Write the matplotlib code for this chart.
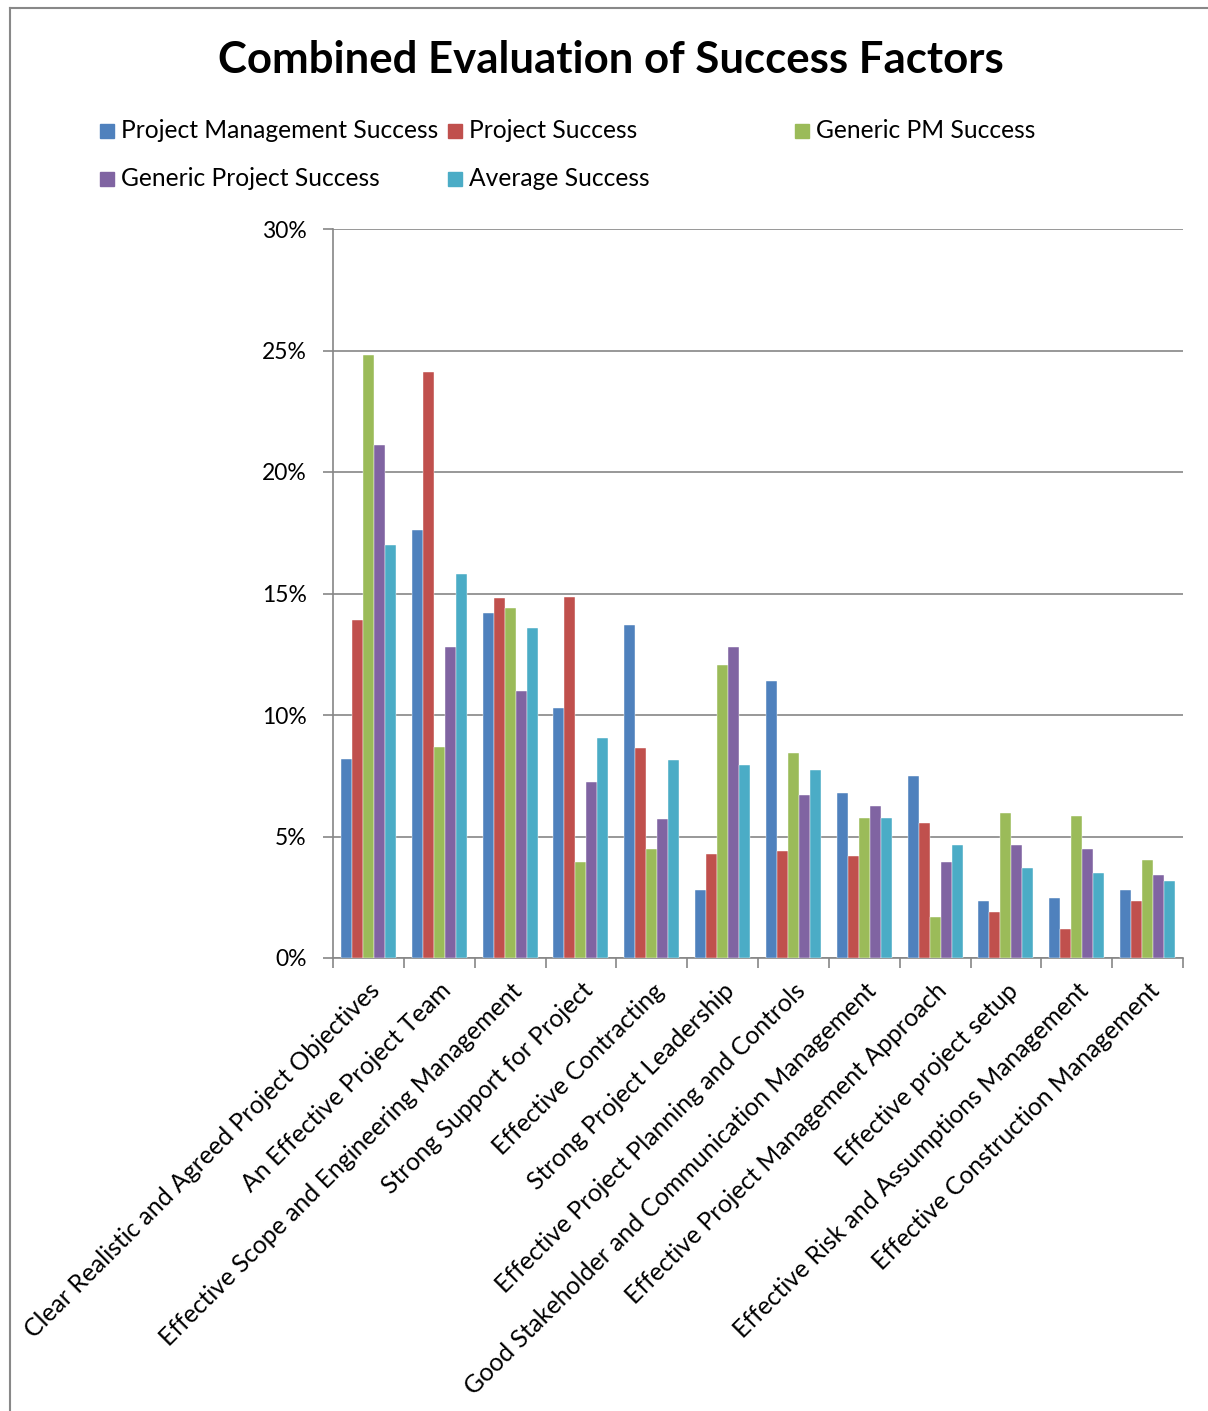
import matplotlib
matplotlib.use('Agg')
import matplotlib.pyplot as plt
import numpy as np
from matplotlib.patches import Rectangle
from matplotlib.lines import Line2D

plt.rcParams['font.family'] = ['Lato', 'DejaVu Sans']

# categories (x axis)
factors = [
    'Clear Realistic and Agreed Project Objectives',
    'An Effective Project Team',
    'Effective Scope and Engineering Management',
    'Strong Support for Project',
    'Effective Contracting',
    'Strong Project Leadership',
    'Effective Project Planning and Controls',
    'Good Stakeholder and Communication Management',
    'Effective Project Management Approach',
    'Effective project setup',
    'Effective Risk and Assumptions Management',
    'Effective Construction Management',
]

# series values in %
pm_success = [8.2, 17.6, 14.2, 10.3, 13.7, 2.8, 11.4, 6.8, 7.5, 2.35, 2.45, 2.8]
project_success = [13.9, 24.1, 14.8, 14.85, 8.65, 4.3, 4.4, 4.2, 5.55, 1.9, 1.2, 2.35]
generic_pm = [24.8, 8.7, 14.4, 3.95, 4.5, 12.05, 8.45, 5.75, 1.7, 5.95, 5.85, 4.05]
generic_project = [21.1, 12.8, 11.0, 7.25, 5.7, 12.8, 6.7, 6.25, 3.95, 4.65, 4.5, 3.4]
average_success = [17.0, 15.8, 13.6, 9.05, 8.15, 7.95, 7.75, 5.75, 4.65, 3.7, 3.5, 3.15]

series_names = ['Project Management Success', 'Project Success', 'Generic PM Success',
                'Generic Project Success', 'Average Success']
series_values = [pm_success, project_success, generic_pm, generic_project, average_success]
colors = ['#4F81BD', '#C0504D', '#9BBB59', '#8064A2', '#4BACC6']

W, H = 1208, 1411
fig = plt.figure(figsize=(W / 100, H / 100), dpi=100)

# outer chart frame
fig.add_artist(Line2D([10 / W, 10 / W], [0, 1 - 8 / H], color='#888888', lw=1.5))
fig.add_artist(Line2D([10 / W, 1], [1 - 8 / H, 1 - 8 / H], color='#888888', lw=1.5))

ax = fig.add_axes([333 / W, 1 - 958 / H, (1183 - 333) / W, (958 - 229) / H])

x = np.arange(len(factors))
bw = 0.155
for i, (name, vals) in enumerate(zip(series_names, series_values)):
    ax.bar(x + (i - 2) * bw, vals, width=bw, color=colors[i], edgecolor='white',
           linewidth=0.3, zorder=3)

ax.set_xlim(-0.5, len(factors) - 0.5)
ax.set_ylim(0, 30)
ax.set_yticks([0, 5, 10, 15, 20, 25, 30])
ax.set_yticklabels(['0%', '5%', '10%', '15%', '20%', '25%', '30%'], fontsize=16.5)
ax.yaxis.grid(True, color='#868686', linewidth=1.2, zorder=0)
ax.tick_params(axis='y', length=7, width=1.2, color='#868686', pad=12)

ax.set_xticks(x)
ax.set_xticklabels(factors, rotation=45, ha='right', va='top', rotation_mode='anchor',
                   fontsize=17.8)
ax.tick_params(axis='x', which='major', length=0, pad=15)
ax.set_xticks(np.arange(-0.5, len(factors), 1), minor=True)
ax.tick_params(axis='x', which='minor', length=7, width=1.2, color='#868686')

for s in ['top', 'right']:
    ax.spines[s].set_visible(False)
for s in ['left', 'bottom']:
    ax.spines[s].set_color('#868686')
    ax.spines[s].set_linewidth(1.2)

# title
fig.text(611 / W, 1 - 60 / H, 'Combined Evaluation of Success Factors', ha='center',
         va='center', fontsize=31.5, fontweight='bold')

# legend placed by hand
legend_pos = [(100, 131), (448, 131), (795, 131), (100, 179), (448, 179)]
for (lx, ly), name, c in zip(legend_pos, series_names, colors):
    fig.add_artist(Rectangle((lx / W, 1 - (ly + 7) / H), 14 / W, 14 / H, color=c))
    fig.text((lx + 21) / W, 1 - ly / H, name, ha='left', va='center', fontsize=17.7)

fig.savefig('out.png', dpi=100)
